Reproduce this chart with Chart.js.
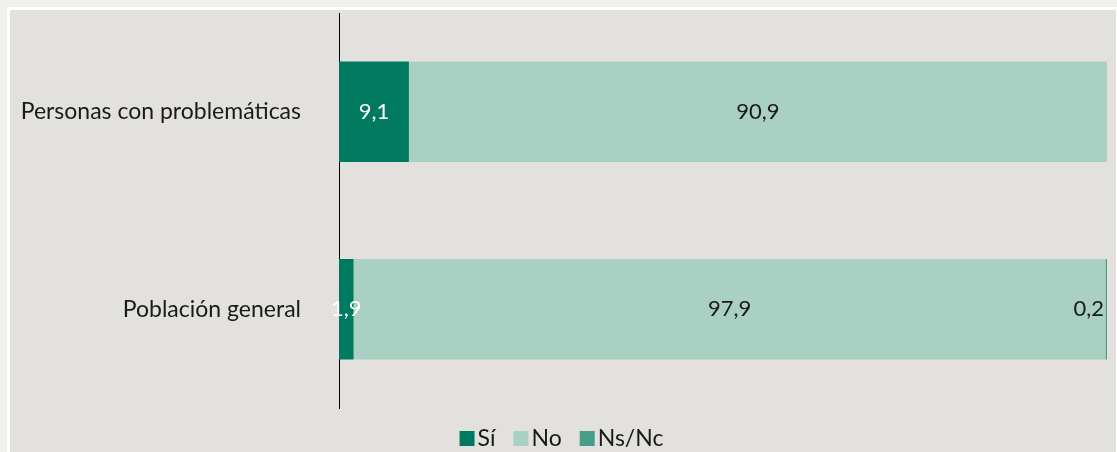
<!DOCTYPE html>
<html><head><meta charset="utf-8">
<script src="https://cdn.jsdelivr.net/npm/chart.js@4"></script>
<style>
html,body{margin:0;padding:0;background:#f1f0ec;width:1117px;height:452px;overflow:hidden}
#panel{position:absolute;left:7px;top:7px;width:1106px;height:445px;background:#e3e1dd;border:3px solid #fff;border-bottom:none}
#c{position:absolute;left:0;top:0}
</style></head><body>
<div id="panel"></div>
<canvas id="c" width="1117" height="452"></canvas>
<script>
const categories = ["Personas con problemáticas", "Población general"];
const si = [9.1, 1.9];
const no = [90.9, 97.9];
const nsnc = [0, 0.2];
const seriesNames = ["Sí", "No", "Ns/Nc"];
const colors = ["#007a5e", "#aacfc3", "#469e88"];
const labelColors = ["#ffffff", "#1a1a1a", "#1a1a1a"];

const FONT = "Lato, 'Noto Sans', sans-serif";

const labelPlugin = {
  id: 'barLabels',
  afterDatasetsDraw(chart) {
    const ctx = chart.ctx;
    ctx.save();
    ctx.font = "22px " + FONT;
    ctx.textBaseline = 'middle';
    chart.data.datasets.forEach((ds, di) => {
      const meta = chart.getDatasetMeta(di);
      meta.data.forEach((bar, i) => {
        const v = ds.data[i];
        if (!v) return;
        const txt = v.toFixed(1).replace('.', ',');
        ctx.fillStyle = labelColors[di];
        if (v < 1) {
          ctx.textAlign = 'right';
          ctx.fillText(txt, bar.x - 3, bar.y);
        } else {
          ctx.textAlign = 'center';
          ctx.fillText(txt, (bar.x + bar.base) / 2, bar.y);
        }
      });
    });
    ctx.restore();
  }
};

// Custom legend: small square, tight gap, label
const legendPlugin = {
  id: 'customLegend',
  afterDraw(chart) {
    const ctx = chart.ctx;
    ctx.save();
    ctx.font = "23px " + FONT;
    ctx.textBaseline = 'alphabetic';
    ctx.textAlign = 'left';
    const box = 15, gapText = 3, gapItem = 18;
    const items = chart.data.datasets.map(ds => ({ text: ds.label, color: ds.backgroundColor }));
    let total = 0;
    items.forEach((it, k) => {
      it.w = ctx.measureText(it.text).width;
      total += box + gapText + it.w + (k < items.length - 1 ? gapItem : 0);
    });
    const cx = (chart.chartArea.left + chart.chartArea.right) / 2 - 162;
    let x = cx - total / 2 + 162;
    const baseY = 446;
    x = 561.5 - total / 2;
    items.forEach(it => {
      ctx.fillStyle = it.color;
      ctx.fillRect(x, baseY - box, box, box);
      ctx.fillStyle = '#1a1a1a';
      ctx.fillText(it.text, x + box + gapText, baseY);
      x += box + gapText + it.w + gapItem;
    });
    ctx.restore();
  }
};

new Chart(document.getElementById('c'), {
  type: 'bar',
  data: {
    labels: categories,
    datasets: [si, no, nsnc].map((d, k) => ({
      label: seriesNames[k], data: d, backgroundColor: colors[k],
      barPercentage: 0.51, categoryPercentage: 1.0, borderWidth: 0
    }))
  },
  options: {
    indexAxis: 'y',
    responsive: false,
    animation: false,
    devicePixelRatio: 1,
    layout: { padding: { left: 0, right: 10, top: 13, bottom: 44 } },
    scales: {
      x: { stacked: true, min: 0, max: 100, display: false },
      y: {
        stacked: true,
        grid: { display: false, drawTicks: false },
        border: { display: true, color: '#000', width: 1 },
        ticks: { color: '#1a1a1a', font: { family: FONT, size: 23 }, padding: 38 },
        afterFit(scale) { scale.width = 339; scale.paddingTop = 0; scale.paddingBottom = 0; }
      }
    },
    plugins: {
      legend: { display: false },
      tooltip: { enabled: false }
    }
  },
  plugins: [labelPlugin, legendPlugin]
});
</script>
</body></html>
